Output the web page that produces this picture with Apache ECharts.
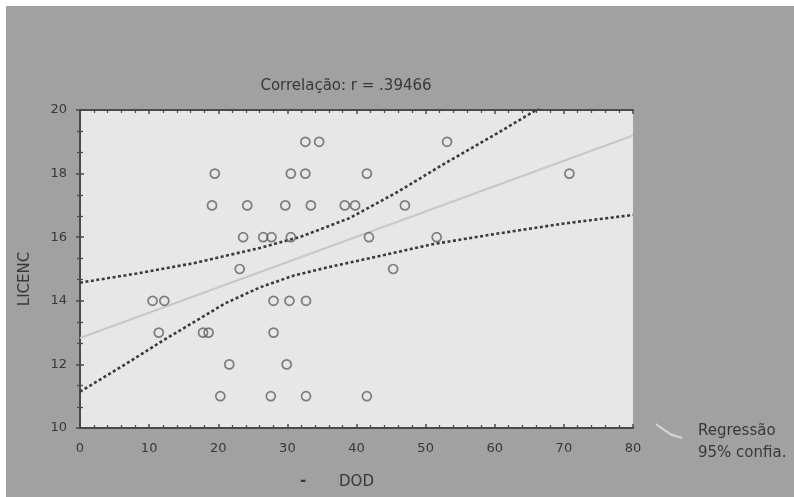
<!DOCTYPE html>
<html>
<head>
<meta charset="utf-8">
<script src="https://cdn.jsdelivr.net/npm/echarts@6/dist/echarts.min.js"></script>
<style>
html,body{margin:0;padding:0;background:#fff;}
#c{width:794px;height:497px;}
</style>
</head>
<body>
<div id="c"></div>
<script>
const dodValues = [32.6,34.6,53.1, 19.5,30.5,32.6,41.5,70.8, 19.1,24.2,29.7,33.4,38.3,39.8,47.0,
  23.6,26.5,27.7,30.5,41.8,51.6, 23.1,45.3, 10.5,12.2,28.0,30.3,32.7, 11.4,17.8,18.6,28.0,
  21.6,29.9, 20.3,27.6,32.7,41.5];
const licencValues = [19,19,19, 18,18,18,18,18, 17,17,17,17,17,17,17,
  16,16,16,16,16,16, 15,15, 14,14,14,14,14, 13,13,13,13,
  12,12, 11,11,11,11];
// Regression line endpoints
const regX = [0, 80];
const regY = [12.83, 19.2];
// 95% confidence band points
const upperX = [0, 8, 16.4, 26, 32, 39, 46, 53, 60, 66, 68];
const upperY = [14.57, 14.85, 15.18, 15.66, 16.02, 16.6, 17.43, 18.35, 19.22, 20.0, 20.3];
const lowerX = [0, 6.75, 12, 16.4, 21, 26, 31, 36, 44, 51, 60, 70, 80];
const lowerY = [11.14, 12.03, 12.75, 13.32, 13.92, 14.42, 14.8, 15.06, 15.44, 15.78, 16.1, 16.43, 16.7];
const xTicks = [0,10,20,30,40,50,60,70,80];
const yTicks = [10,12,14,16,18,20];
const titleText = 'Correlação: r = .39466';
const xName = 'DOD';
const yName = 'LICENC';

const zip = (a,b) => a.map((v,i)=>[v,b[i]]);
const txt = '#383838';
const font = 'DejaVu Sans';
const axisCol = '#4a4a4a';

const chart = echarts.init(document.getElementById('c'), null, {renderer:'canvas'});
function axisCommon(split){
  return {
    axisLine:{show:true, lineStyle:{color:axisCol, width:2}},
    axisTick:{show:true, inside:true, length:4, lineStyle:{color:axisCol, width:1.5}},
    minorTick:{show:true, splitNumber:split, length:3, lineStyle:{color:axisCol, width:1.3}},
    splitLine:{show:false}
  };
}
chart.setOption({
  backgroundColor:'#ffffff',
  animation:false,
  textStyle:{fontFamily:font},
  graphic:[
    {type:'rect', z:-10, shape:{x:6, y:6, width:794, height:497}, style:{fill:'#a1a1a1'}},
    {type:'text', x:300, y:474, style:{text:'-', fill:txt, font:'bold 15px '+font}},
    {type:'text', x:25, y:279, rotation:Math.PI/2, style:{text:yName, fill:txt, font:'15px '+font, align:'center', verticalAlign:'middle'}}
  ],
  title:{
    text:titleText, left:341, top:74, textAlign:'center',
    textStyle:{color:txt, fontSize:15, fontWeight:'normal', fontFamily:font}
  },
  legend:{
    orient:'vertical', left:650, top:418, itemGap:6, itemWidth:28, itemHeight:16,
    textStyle:{color:txt, fontSize:15, fontFamily:font, padding:[0,0,0,10]},
    data:[
      {name:'Regressão', icon:'path://M0,0 L16,11 L28,15 L28,17 L16,13.5 L0,2.5 Z', itemStyle:{color:'#d6d6d6'}},
      {name:'95% confia.', icon:'rect', itemStyle:{color:'rgba(0,0,0,0)', borderWidth:0}}
    ]
  },
  grid:{left:80, right:161, top:110, bottom:69, show:true, backgroundColor:'#e7e7e7', borderWidth:0},
  xAxis:[
    Object.assign({type:'value', min:0, max:80, interval:10, name:xName, nameLocation:'middle', nameGap:47,
      nameTextStyle:{color:txt, fontSize:15, fontFamily:font},
      axisLabel:{color:txt, fontSize:13, margin:14, fontFamily:font,
        formatter:v => xTicks.includes(v) ? String(v) : ''}}, axisCommon(5)),
    Object.assign({type:'value', min:0, max:80, interval:10, position:'top', axisLabel:{show:false}}, axisCommon(5))
  ],
  yAxis:[
    Object.assign({type:'value', min:10, max:20, interval:2,
      axisLabel:{color:txt, fontSize:13, margin:13, fontFamily:font,
        formatter:v => yTicks.includes(v) ? String(v) : ''}}, axisCommon(3)),
    Object.assign({type:'value', min:10, max:20, interval:2, position:'right', axisLabel:{show:false}}, axisCommon(3))
  ],
  series:[
    {name:'Regressão', type:'line', data:zip(regX, regY), showSymbol:false, symbol:'none',
      lineStyle:{color:'#c8c8c8', width:2}, itemStyle:{color:'#c8c8c8'}, z:2, silent:true},
    {name:'95% confia.', type:'line', data:zip(upperX, upperY), showSymbol:false, symbol:'none', smooth:false, clip:true,
      lineStyle:{color:'#3a3a3a', width:2.6, type:[3,2.5]}, itemStyle:{color:'#3a3a3a'}, z:3, silent:true},
    {name:'95% confia.', type:'line', data:zip(lowerX, lowerY), showSymbol:false, symbol:'none', smooth:false, clip:true,
      lineStyle:{color:'#3a3a3a', width:2.6, type:[3,2.5]}, itemStyle:{color:'#3a3a3a'}, z:3, silent:true},
    {name:'LICENC', type:'scatter', data:zip(dodValues, licencValues), symbol:'circle', symbolSize:9,
      itemStyle:{color:'rgba(0,0,0,0)', borderColor:'#626262', borderWidth:1.7}, z:4}
  ]
});
</script>
</body>
</html>
